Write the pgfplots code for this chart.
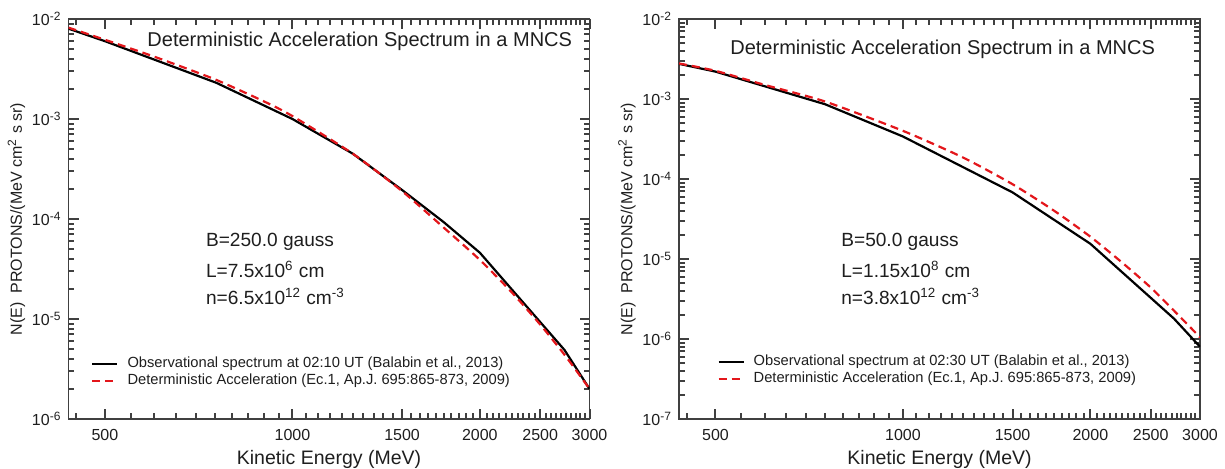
\documentclass[border=0pt]{standalone}
\usepackage{fontspec}
\setmainfont{Liberation Sans}
\usepackage{pgfplots}
\usepackage{pgfplotstable}
\pgfplotsset{compat=1.18}
\definecolor{framegray}{HTML}{404040}
\definecolor{myred}{HTML}{E3161B}
\definecolor{txt}{HTML}{1E1E1E}

\pgfplotstableread{
E N
437 8.0e-3
500 6.0e-3
755 2.3e-3
1000 1.0e-3
1250 4.5e-4
1500 1.95e-4
1750 9.3e-5
2000 4.6e-5
2735 4.9e-6
3000 2.0e-6
}\obsA
\pgfplotstableread{
E N
437 8.2e-3
500 6.2e-3
600 4.2e-3
750 2.5e-3
900 1.5e-3
1000 1.07e-3
1250 4.5e-4
1500 1.9e-4
1750 8.2e-5
2000 3.9e-5
2250 1.85e-5
2500 8.8e-6
2750 4.2e-6
3000 2.0e-6
}\detA
\pgfplotstableread{
E N
437 2.75e-3
500 2.2e-3
750 8.6e-4
1000 3.4e-4
1500 6.8e-5
2000 1.55e-5
2724 1.8e-6
3000 8.0e-7
}\obsB
\pgfplotstableread{
E N
437 2.78e-3
500 2.25e-3
600 1.5e-3
750 9.3e-4
1000 4.0e-4
1250 1.85e-4
1500 8.6e-5
1750 4.0e-5
2000 1.9e-5
2250 9.0e-6
2500 4.4e-6
2750 2.1e-6
3000 1.05e-6
}\detB

\tikzset{
  obs/.style={black, line width=1.1pt},
  det/.style={myred, line width=1.1pt, dash pattern=on 4pt off 2.5pt},
}

\pgfplotsset{
  mypanel/.style={
    scale only axis, width=260.5pt, height=200pt,
    xmin=437, xmax=3000,
    xtick={500,1000,1500,2000,2500,3000},
    xticklabels={500,1000,1500,2000,2500,3000},
    minor xtick={450,550,600,650,700,750,800,850,900,950,1050,1100,1150,1200,1250,1300,1350,1400,1450,1550,1600,1650,1700,1750,1800,1850,1900,1950,2050,2100,2150,2200,2250,2300,2350,2400,2450,2550,2600,2650,2700,2750,2800,2850,2900,2950},
    tick pos=both,
    axis line style={framegray, line width=0.8pt},
    tick style={draw=framegray, line width=1pt},
    major tick length=5pt, minor tick length=2.8pt,
    tick align=inside,
    ticklabel style={font=\fontsize{8}{9.6}\selectfont, text=txt},
    xticklabel style={anchor=base, yshift=-11pt},
    every axis y label/.style={at={(axis description cs:-0.0998,0.5)}, rotate=90, anchor=center, font=\fontsize{8}{9.6}\selectfont, text=txt},
    every axis x label/.style={at={(axis description cs:0.5,-0.1125)}, anchor=base, font=\fontsize{9.75}{11}\selectfont, text=txt},
    xlabel={Kinetic Energy (MeV)},
    ylabel={N(E)\ \ PROTONS/(MeV cm\textsuperscript{2} s sr)},
    legend cell align=left,
    legend style={draw=none, fill=none, anchor=north west, inner sep=0pt, row sep=0pt, column sep=4.5pt,
      font=\fontsize{7.35}{8}\selectfont, text=txt,
      nodes={inner sep=0pt, text height=6pt, text depth=2.5pt}},
  }
}

\begin{document}
\begin{tikzpicture}
\path[use as bounding box] (0,0) rectangle (612.5pt,234.5pt);

% Left panel
\begin{axis}[xmode=log, ymode=log, mypanel, at={(34.25pt,25pt)}, anchor=south west,
  legend image code/.code={\draw[#1] (0pt,0pt) -- (12.5pt,0pt);},
  ymin=1e-6, ymax=1e-2,
  ytick={1e-6,1e-5,1e-4,1e-3,1e-2},
  yticklabels={10\textsuperscript{-6},10\textsuperscript{-5},10\textsuperscript{-4},10\textsuperscript{-3},10\textsuperscript{-2}},
  minor ytick={2e-6,3e-6,4e-6,5e-6,6e-6,7e-6,8e-6,9e-6,2e-5,3e-5,4e-5,5e-5,6e-5,7e-5,8e-5,9e-5,2e-4,3e-4,4e-4,5e-4,6e-4,7e-4,8e-4,9e-4,2e-3,3e-3,4e-3,5e-3,6e-3,7e-3,8e-3,9e-3},
  legend style={at={(rel axis cs:0.043,0.16)}},
]
\addplot[obs] table[x=E,y=N] {\obsA};
\addlegendentry{Observational spectrum at 02:10 UT (Balabin et al., 2013)}
\addplot[det, smooth, tension=0.4] table[x=E,y=N] {\detA};
\addlegendentry{Deterministic Acceleration (Ec.1, Ap.J. 695:865-873, 2009)}
\node[anchor=base east, font=\fontsize{10}{12}\selectfont, text=txt] at (rel axis cs:0.98,0.93) {Deterministic Acceleration Spectrum in a MNCS};
\node[anchor=base west, font=\fontsize{9.55}{11}\selectfont, text=txt] at (rel axis cs:0.2505,0.43) {B=250.0 gauss};
\node[anchor=base west, font=\fontsize{9.55}{11}\selectfont, text=txt] at (rel axis cs:0.2505,0.3525) {L=7.5x10\textsuperscript{6} cm};
\node[anchor=base west, font=\fontsize{9.55}{11}\selectfont, text=txt] at (rel axis cs:0.2505,0.285) {n=6.5x10\textsuperscript{12} cm\textsuperscript{-3}};
\end{axis}

% Right panel
\begin{axis}[xmode=log, ymode=log, mypanel, at={(339.5pt,25pt)}, anchor=south west,
  legend image code/.code={\draw[#1] (0pt,0pt) -- (12.5pt,0pt);},
  ymin=1e-7, ymax=1e-2,
  ytick={1e-7,1e-6,1e-5,1e-4,1e-3,1e-2},
  yticklabels={10\textsuperscript{-7},10\textsuperscript{-6},10\textsuperscript{-5},10\textsuperscript{-4},10\textsuperscript{-3},10\textsuperscript{-2}},
  minor ytick={2e-7,3e-7,4e-7,5e-7,6e-7,7e-7,8e-7,9e-7,2e-6,3e-6,4e-6,5e-6,6e-6,7e-6,8e-6,9e-6,2e-5,3e-5,4e-5,5e-5,6e-5,7e-5,8e-5,9e-5,2e-4,3e-4,4e-4,5e-4,6e-4,7e-4,8e-4,9e-4,2e-3,3e-3,4e-3,5e-3,6e-3,7e-3,8e-3,9e-3},
  legend style={at={(rel axis cs:0.073,0.165)}},
]
\addplot[obs] table[x=E,y=N] {\obsB};
\addlegendentry{Observational spectrum at 02:30 UT (Balabin et al., 2013)}
\addplot[det, smooth, tension=0.4] table[x=E,y=N] {\detB};
\addlegendentry{Deterministic Acceleration (Ec.1, Ap.J. 695:865-873, 2009)}
\node[anchor=base, font=\fontsize{10}{12}\selectfont, text=txt] at (rel axis cs:0.506,0.91) {Deterministic Acceleration Spectrum in a MNCS};
\node[anchor=base west, font=\fontsize{9.55}{11}\selectfont, text=txt] at (rel axis cs:0.298,0.43) {B=50.0 gauss};
\node[anchor=base west, font=\fontsize{9.55}{11}\selectfont, text=txt] at (rel axis cs:0.298,0.3525) {L=1.15x10\textsuperscript{8} cm};
\node[anchor=base west, font=\fontsize{9.55}{11}\selectfont, text=txt] at (rel axis cs:0.298,0.285) {n=3.8x10\textsuperscript{12} cm\textsuperscript{-3}};
\end{axis}
\end{tikzpicture}
\end{document}
